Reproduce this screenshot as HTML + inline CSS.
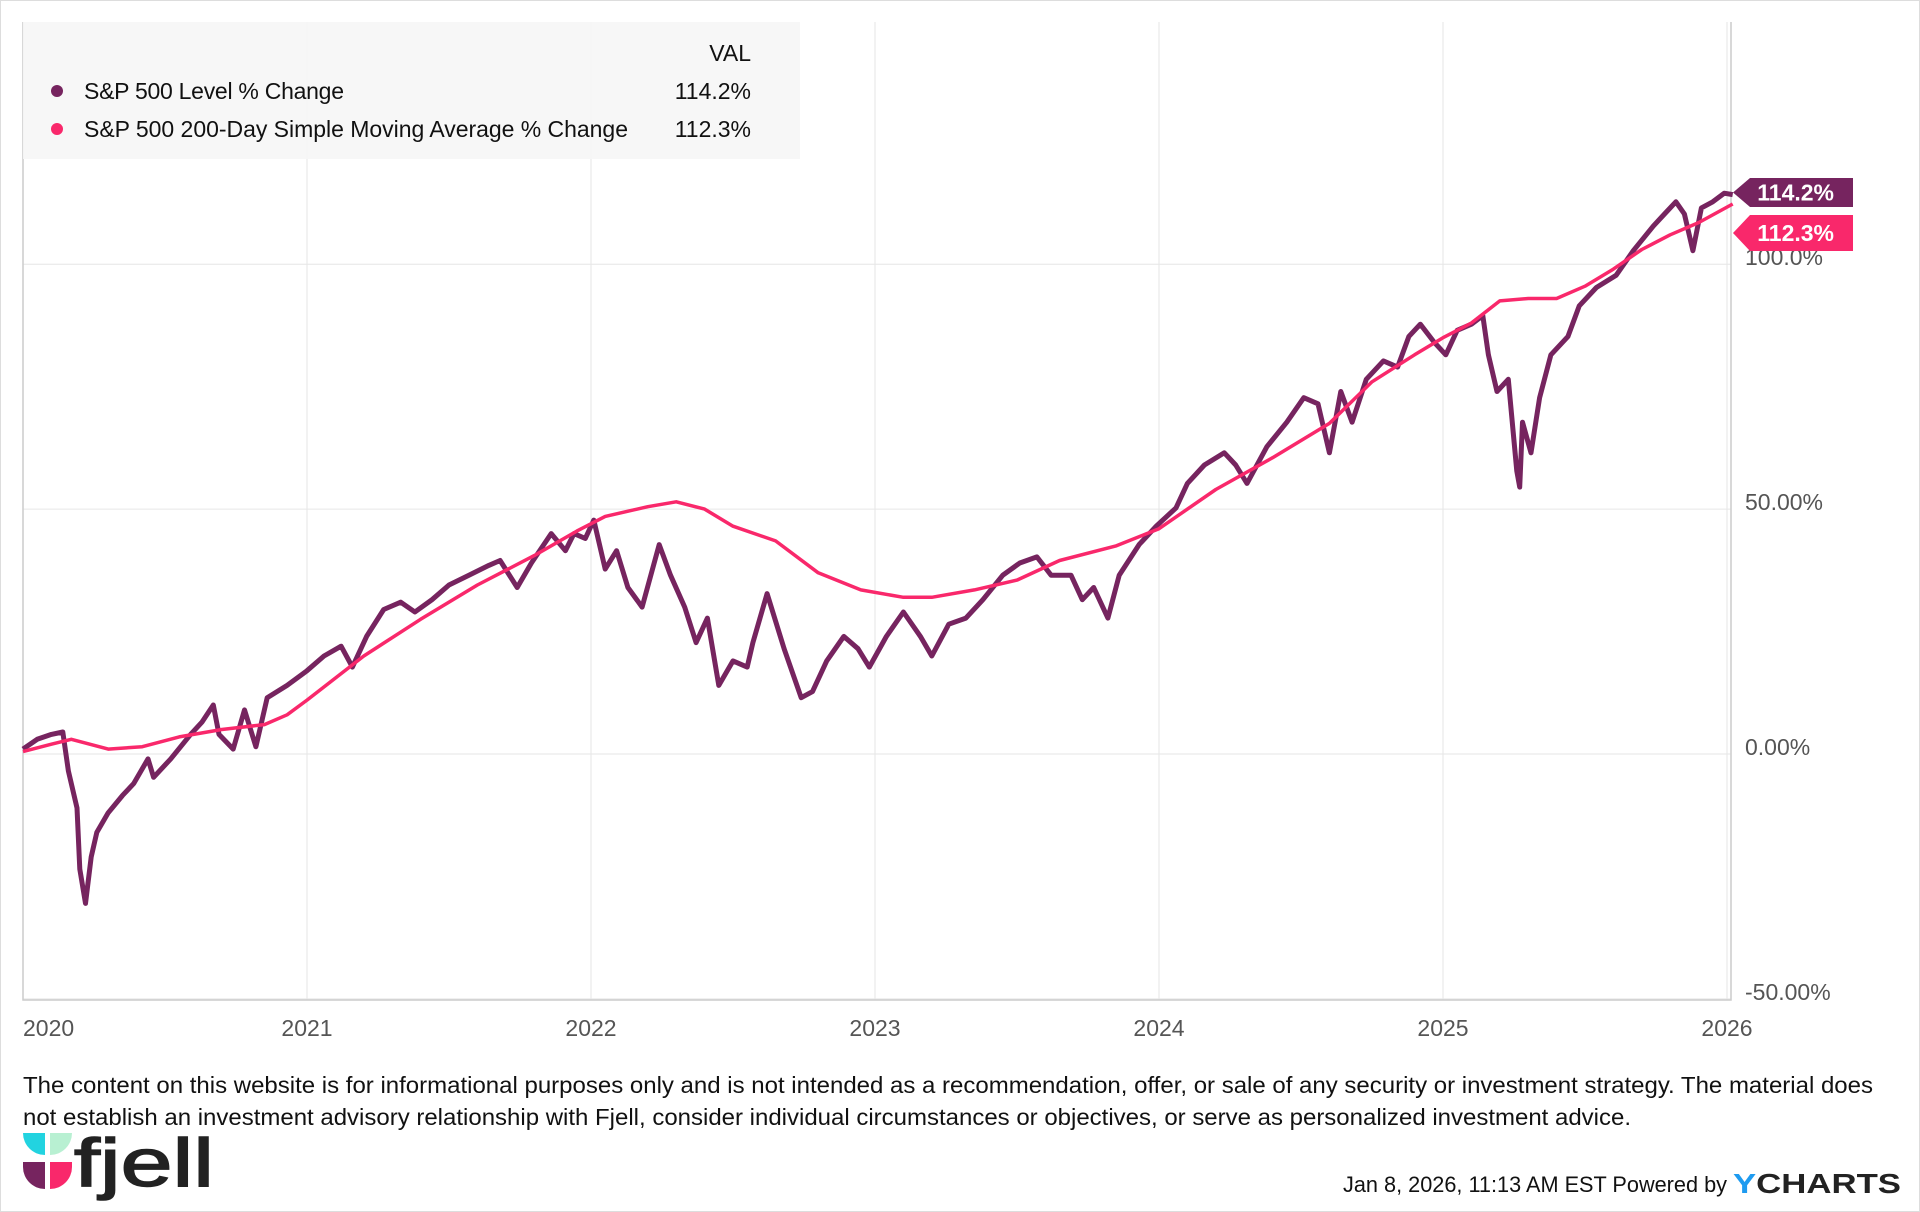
<!DOCTYPE html>
<html><head><meta charset="utf-8">
<style>
html,body{margin:0;padding:0;background:#fff;}
svg{display:block;font-family:"Liberation Sans",sans-serif;}
</style></head>
<body>
<svg id="chart" width="1920" height="1212" viewBox="0 0 1920 1212" xmlns="http://www.w3.org/2000/svg">
<rect x="0.5" y="0.5" width="1919" height="1211" fill="#fff" stroke="#ddd"/>
<g id="grid"></g>
<g id="legend">
  <rect x="23" y="22" width="777" height="137" fill="#f6f6f6" opacity="0.92"/>
  <text x="751" y="61" text-anchor="end" font-size="23" fill="#111">VAL</text>
  <circle cx="57" cy="91" r="6" fill="#76245f"/>
  <text x="84" y="99" font-size="23" fill="#111" textLength="260">S&amp;P 500 Level % Change</text>
  <text x="751" y="99" text-anchor="end" font-size="23" fill="#111">114.2%</text>
  <circle cx="57" cy="129" r="6" fill="#f9286b"/>
  <text x="84" y="137" font-size="23" fill="#111" textLength="544">S&amp;P 500 200-Day Simple Moving Average % Change</text>
  <text x="751" y="137" text-anchor="end" font-size="23" fill="#111">112.3%</text>
</g>
<g id="series"></g>
<g id="tags"></g>
<text x="23" y="1093" font-size="23" fill="#111" textLength="1850" lengthAdjust="spacingAndGlyphs">The content on this website is for informational purposes only and is not intended as a recommendation, offer, or sale of any security or investment strategy. The material does</text>
<text x="23" y="1125" font-size="23" fill="#111" textLength="1608" lengthAdjust="spacingAndGlyphs">not establish an investment advisory relationship with Fjell, consider individual circumstances or objectives, or serve as personalized investment advice.</text>
<g>
  <path d="M23 1133 h22 v22 a22 22 0 0 1 -22 -22z" fill="#22d3e0"/>
  <path d="M50 1133 h22 a22 22 0 0 1 -22 22z" fill="#b8f0d2"/>
  <path d="M23 1162 h22 v27 a22 22 0 0 1 -22 -22z" fill="#76245f"/>
  <path d="M50 1162 h22 v5 a22 22 0 0 1 -22 22z" fill="#f9286b"/>
  <text x="74" y="1186" font-size="68" fill="#222" stroke="#222" stroke-width="1.5" textLength="140" lengthAdjust="spacingAndGlyphs">fjell</text>
</g>
<text x="1343" y="1192" font-size="22" fill="#111" textLength="384" lengthAdjust="spacingAndGlyphs">Jan 8, 2026, 11:13 AM EST Powered by</text>
<text x="1733" y="1193" font-size="28" font-weight="bold" fill="#222" textLength="168" lengthAdjust="spacingAndGlyphs"><tspan fill="#1e9bf0">Y</tspan>CHARTS</text>
</svg>
<script>
const yearTicks = [2020, 2021, 2022, 2023, 2024, 2025, 2026];
const yTicks = [-50, 0, 50, 100];
const yTickLabels = ["-50.00%", "0.00%", "50.00%", "100.0%"];
const levelDates = [2020.0,2020.05,2020.1,2020.14,2020.16,2020.19,2020.2,2020.22,2020.24,2020.26,2020.3,2020.35,2020.39,2020.44,2020.46,2020.52,2020.59,2020.63,2020.67,2020.69,2020.74,2020.78,2020.82,2020.86,2020.93,2021.0,2021.06,2021.12,2021.16,2021.21,2021.27,2021.33,2021.38,2021.44,2021.5,2021.57,2021.64,2021.68,2021.74,2021.79,2021.86,2021.91,2021.94,2021.98,2022.01,2022.05,2022.09,2022.13,2022.18,2022.24,2022.28,2022.33,2022.37,2022.41,2022.45,2022.5,2022.55,2022.57,2022.62,2022.68,2022.74,2022.78,2022.83,2022.89,2022.94,2022.98,2023.04,2023.1,2023.16,2023.2,2023.26,2023.32,2023.38,2023.45,2023.51,2023.57,2023.62,2023.69,2023.73,2023.77,2023.82,2023.86,2023.93,2023.99,2024.06,2024.1,2024.16,2024.23,2024.27,2024.31,2024.38,2024.45,2024.51,2024.56,2024.6,2024.64,2024.68,2024.73,2024.79,2024.84,2024.88,2024.92,2024.97,2025.01,2025.05,2025.1,2025.14,2025.16,2025.19,2025.23,2025.26,2025.27,2025.28,2025.31,2025.34,2025.38,2025.44,2025.48,2025.54,2025.61,2025.67,2025.74,2025.78,2025.82,2025.85,2025.88,2025.91,2025.95,2025.99,2026.02];
const levelValues = [1,3,4,4.5,-3.5,-11,-23.5,-30.5,-21,-16,-12,-8.5,-6,-1,-4.75,-1,4,6.5,10,4,1,9,1.5,11.5,14,17,20,22,17.75,24,29.5,31,29,31.5,34.5,36.5,38.5,39.5,34,39,45,41.5,45,44,47.75,37.75,41.5,34,30,42.75,36.5,30,22.75,27.75,14,19,17.75,22.75,32.75,21.5,11.5,12.75,19,24,21.5,17.75,24,29,24,20,26.5,27.75,31.5,36.5,39,40.25,36.5,36.5,31.5,34,27.75,36.5,42.75,46.5,50.25,55.25,59,61.5,59,55.25,62.75,67.75,72.75,71.5,61.5,74,67.75,76.5,80.25,79,85.25,87.75,84,81.5,86.5,87.75,89.5,81.5,74,76.5,57.75,54.5,67.75,61.5,72.75,81.5,85.25,91.5,95.25,97.75,102.75,107.75,110.25,112.75,110.25,102.75,111.5,112.75,114.5,114.2];
const smaDates = [2020.0,2020.1,2020.17,2020.3,2020.42,2020.55,2020.7,2020.85,2020.93,2021.0,2021.2,2021.4,2021.6,2021.8,2021.95,2022.05,2022.2,2022.3,2022.4,2022.5,2022.65,2022.8,2022.95,2023.1,2023.2,2023.35,2023.5,2023.65,2023.85,2024.0,2024.2,2024.4,2024.6,2024.75,2024.9,2025.0,2025.1,2025.2,2025.3,2025.4,2025.5,2025.6,2025.7,2025.8,2025.9,2026.02];
const smaValues = [0.5,2,3,1,1.5,3.5,5,6,8,11,20,27.5,34.5,40.5,45.5,48.5,50.5,51.5,50,46.5,43.5,37,33.5,32,32,33.5,35.5,39.5,42.5,46,54,60.5,67.5,76,81.5,85,88,92.5,93,93,95.5,99,103,106,108.5,112.3];
const lastValues = ["114.2%","112.3%"];

const NS="http://www.w3.org/2000/svg";
const L=23,R=1731,T=22,B=1000;
function xs(d){return 23+(d-2020)*(1727-23)/6;}
function ys(v){return 754-v*4.898;}
function mk(tag,attrs,parent){const e=document.createElementNS(NS,tag);for(const k in attrs)e.setAttribute(k,attrs[k]);parent.appendChild(e);return e;}
const grid=document.getElementById('grid');
yTicks.forEach((t,i)=>{
  const ln=mk('line',{x1:L,x2:R,y1:ys(t),y2:ys(t),stroke:'#e6e6e6','stroke-width':1},grid);
  
  
  const tx=mk('text',{x:1745,y:ys(t)+1,'font-size':23,fill:'#555'},grid);
  tx.textContent=yTickLabels[i];
  
  
});
yearTicks.forEach(y=>{
  const ln=mk('line',{x1:xs(y),x2:xs(y),y1:T,y2:B,stroke:'#e6e6e6','stroke-width':1},grid);
  
  
  const tx=mk('text',{x:y===2020?L:xs(y),y:1036,'font-size':23,fill:'#555','text-anchor':y===2020?'start':'middle'},grid);
  tx.textContent=String(y);
  
  
});
const fr=mk('path',{d:`M${L} ${T} V${B} H${R} V${T}`,fill:'none',stroke:'#ccc','stroke-width':1.5},grid);



const series=document.getElementById('series');
function pathOf(ds,vs){return ds.map((d,i)=>(i?'L':'M')+xs(d).toFixed(1)+' '+ys(vs[i]).toFixed(1)).join(' ');}
const lv=mk('path',{d:pathOf(levelDates,levelValues),fill:'none',stroke:'#76245f','stroke-width':5,'stroke-linejoin':'round'},series);


const sm=mk('path',{d:pathOf(smaDates,smaValues),fill:'none',stroke:'#f9286b','stroke-width':3.5,'stroke-linejoin':'round'},series);



const tags=document.getElementById('tags');
[[178,207,'#76245f'],[215,251,'#f9286b']].forEach((t,i)=>{
  const [a,b,c]=t,m=(a+b)/2;
  const p=mk('path',{d:`M1733 ${m} L1750 ${a} H1853 V${b} H1750 Z`,fill:c},tags);
  
  
  const tx=mk('text',{x:1834,y:m+8,'font-size':23,'font-weight':'bold',fill:'#fff','text-anchor':'end'},tags);
  tx.textContent=lastValues[i];
  
  
});
</script>
</body></html>
